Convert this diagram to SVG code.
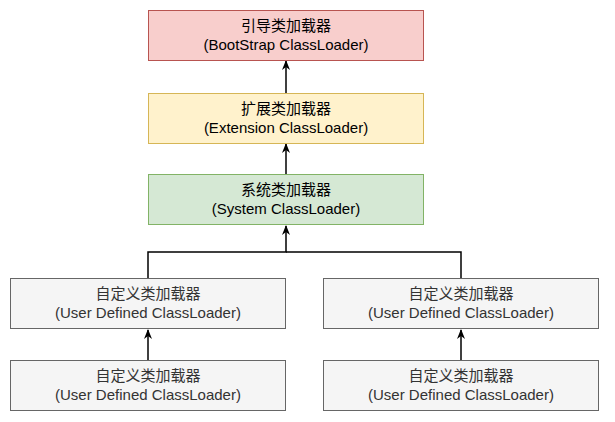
<svg xmlns="http://www.w3.org/2000/svg" width="615" height="422" viewBox="0 0 615 422">
<style>
text{font-family:"Liberation Sans","Noto Sans CJK SC",sans-serif;font-size:15px;text-anchor:middle}
.red{fill:#f8cecc;stroke:#b85450}
.yel{fill:#fff2cc;stroke:#d6b656}
.grn{fill:#d5e8d4;stroke:#82b366}
.gry{fill:#f5f5f5;stroke:#666666}
.gt{fill:#333333}
.e{fill:none;stroke:#000;stroke-width:1.5}
</style>
<defs>
<marker id="a" viewBox="0 0 10 10" refX="9" refY="5" markerWidth="10" markerHeight="8" preserveAspectRatio="none" markerUnits="userSpaceOnUse" orient="auto">
<path d="M0,0 L10,5 L0,10 L3,5 Z" fill="#000"/>
</marker>
</defs>
<rect width="615" height="422" fill="#fff"/>
<g id="edges">
<path class="e" d="M286 93.5 V61" marker-end="url(#a)"/>
<path class="e" d="M286 174.5 V144" marker-end="url(#a)"/>
<path class="e" d="M148 278.5 V252 H286 V226" marker-end="url(#a)"/>
<path class="e" d="M461 278.5 V252 H286"/>
<path class="e" d="M148 360 V330" marker-end="url(#a)"/>
<path class="e" d="M461 360 V330" marker-end="url(#a)"/>
</g>
<g id="boot"><rect class="red" x="148.5" y="10.5" width="275" height="50"/><text x="286" y="31">引导类加载器</text><text x="286" y="49.5">(BootStrap ClassLoader)</text></g>
<g id="ext"><rect class="yel" x="148.5" y="93.5" width="275" height="50"/><text x="286" y="114">扩展类加载器</text><text x="286" y="132.5">(Extension ClassLoader)</text></g>
<g id="sys"><rect class="grn" x="148.5" y="174.5" width="275" height="50"/><text x="286" y="195">系统类加载器</text><text x="286" y="213.5">(System ClassLoader)</text></g>
<g id="user1"><rect class="gry" x="10.5" y="278.5" width="275" height="50"/><text class="gt" x="148" y="299">自定义类加载器</text><text class="gt" x="148" y="317.5">(User Defined ClassLoader)</text></g>
<g id="user2"><rect class="gry" x="10.5" y="360.5" width="275" height="50"/><text class="gt" x="148" y="381">自定义类加载器</text><text class="gt" x="148" y="399.5">(User Defined ClassLoader)</text></g>
<g id="user3"><rect class="gry" x="323.5" y="278.5" width="275" height="50"/><text class="gt" x="461" y="299">自定义类加载器</text><text class="gt" x="461" y="317.5">(User Defined ClassLoader)</text></g>
<g id="user4"><rect class="gry" x="323.5" y="360.5" width="275" height="50"/><text class="gt" x="461" y="381">自定义类加载器</text><text class="gt" x="461" y="399.5">(User Defined ClassLoader)</text></g>
</svg>
